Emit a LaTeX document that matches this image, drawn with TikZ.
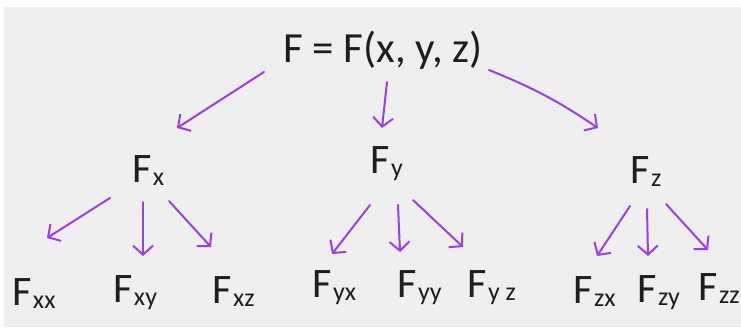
\documentclass[tikz,border=0pt]{standalone}
\usepackage{fontspec}
\setmainfont{Carlito}
\usetikzlibrary{arrows.meta}
\definecolor{paper}{HTML}{EFEFEF}
\definecolor{inkviolet}{HTML}{9B3DF3}
\definecolor{ink}{HTML}{1E1E1E}
\newcommand{\Fsub}[1]{F\kern1.5pt\raisebox{-3pt}{\fontsize{26}{26}\selectfont #1}}

\begin{document}
\begin{tikzpicture}[
    x=1pt, y=-1pt,
    >={Straight Barb[length=9pt,width=20pt]},
    lbl/.style={inner sep=0pt, anchor=base west, text=ink,
                font=\fontsize{42}{42}\selectfont},
    rootlbl/.style={lbl, font=\fontsize{43}{43}\selectfont},
    arr/.style={->, draw=inkviolet, line width=2pt, line cap=round}
  ]
  \useasboundingbox (0,0) rectangle (741,327);
  \fill[paper] (4,7) rectangle (741,327);

  % top
  \node[rootlbl] (root) at (283,62) {F = F(x, y, z)};

  % first derivatives
  \node[lbl] (fx) at (132,182) {\Fsub{x}};
  \node[lbl] (fy) at (370,173) {\Fsub{y}};
  \node[lbl] (fz) at (630,183) {\Fsub{z}};

  % second derivatives
  \node[lbl] (fxx) at (12,305)  {\Fsub{xx}};
  \node[lbl] (fxy) at (113,302) {\Fsub{xy}};
  \node[lbl] (fxz) at (212,303) {\Fsub{xz}};
  \node[lbl] (fyx) at (312,297) {\Fsub{yx}};
  \node[lbl] (fyy) at (397,297) {\Fsub{yy}};
  \node[lbl] (fyz) at (467,297) {\Fsub{y z}};
  \node[lbl] (fzx) at (573,303) {\Fsub{zx}};
  \node[lbl] (fzy) at (637,302) {\Fsub{zy}};
  \node[lbl] (fzz) at (698,300) {\Fsub{zz}};

  \draw[arr] ([shift={(-19,10)}]root.base west) -- ([shift={(45,-54)}]fx.base west);
  \draw[arr] ([shift={(104,20)}]root.base west) -- ([shift={(12,-45)}]fy.base west);
  \draw[arr] ([shift={(206,8)}]root.base west) to[bend left=6] ([shift={(-32,-55)}]fz.base west);

  \draw[arr] ([shift={(-22,16)}]fx.base west) -- ([shift={(35,-67)}]fxx.base west);
  \draw[arr] ([shift={(11,20)}]fx.base west) -- ([shift={(30,-46)}]fxy.base west);
  \draw[arr] ([shift={(37,19)}]fx.base west) -- ([shift={(-1,-56)}]fxz.base west);

  \draw[arr] ([shift={(0,32)}]fy.base west) -- ([shift={(20,-43)}]fyx.base west);
  \draw[arr] ([shift={(28,32)}]fy.base west) -- ([shift={(3,-45)}]fyy.base west);
  \draw[arr] ([shift={(43,27)}]fy.base west) -- ([shift={(-4,-50)}]fyz.base west);

  \draw[arr] ([shift={(0,23)}]fz.base west) -- ([shift={(24,-47)}]fzx.base west);
  \draw[arr] ([shift={(17,26)}]fz.base west) -- ([shift={(11,-46)}]fzy.base west);
  \draw[arr] ([shift={(36,21)}]fz.base west) -- ([shift={(10,-50)}]fzz.base west);
\end{tikzpicture}
\end{document}
